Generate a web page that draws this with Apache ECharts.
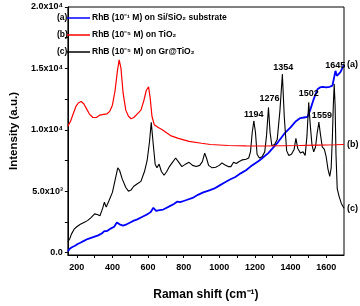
<!DOCTYPE html>
<html>
<head>
<meta charset="utf-8">
<script src="https://cdn.jsdelivr.net/npm/echarts@6/dist/echarts.min.js"></script>
<style>html,body{margin:0;padding:0;background:#fff}#c{width:360px;height:306px}</style>
</head>
<body>
<div id="c"></div>
<script>
// ---- data ----
const seriesNames = ['RhB (10⁻¹ M) on Si/SiO₂ substrate', 'RhB (10⁻⁵ M) on TiO₂', 'RhB (10⁻⁵ M) on Gr@TiO₂'];
const seriesTags = ['(a)', '(b)', '(c)'];

const xA = [150,160,175,190,205,220,240,260,280,300,320,340,355,370,390,410,425,440,460,480,500,520,540,560,580,600,615,630,645,665,685,705,725,745,765,780,800,820,850,880,910,940,970,1000,1030,1060,1090,1120,1150,1175,1200,1225,1250,1275,1300,1330,1366,1400,1430,1455,1475,1495,1510,1530,1551,1565,1580,1600,1620,1635,1645,1652,1660,1668,1680,1690,1700];
const yA = [100,300,450,550,700,800,950,1100,1200,1300,1400,1550,1750,1750,1950,2100,2450,2300,2200,2300,2450,2600,2700,2850,3000,3150,3300,3650,3400,3450,3500,3650,3800,3950,4150,4100,4200,4300,4450,4700,4900,5050,5200,5450,5700,5950,6150,6450,6700,7000,7250,7500,7800,8100,8500,9000,9700,10200,10700,10950,11000,11050,11600,12500,13300,13450,13500,13450,13500,13600,14300,14800,14400,14300,14700,15000,15300];

const xB = [150,165,180,195,210,225,240,255,270,290,310,330,350,370,385,400,415,428,438,448,460,475,490,505,520,540,560,575,590,603,612,622,635,655,680,700,730,770,830,900,950,1050,1150,1250,1350,1450,1550,1650,1700];
const yB = [10300,10700,11300,11900,12200,12300,12100,11700,11300,11000,11000,11200,11250,11300,11500,12000,13200,14800,15700,15000,13000,11600,11100,10900,11000,11300,11600,12300,13200,13500,12600,11100,10400,10200,10000,9800,9500,9300,9050,8900,8800,8720,8690,8680,8700,8720,8750,8780,8800];

const xC = [150,160,170,185,200,220,240,260,280,300,315,330,345,355,365,380,400,415,430,440,455,475,490,505,520,540,560,580,595,608,618,628,640,650,662,675,690,705,720,735,745,755,765,775,790,810,830,850,870,890,905,918,928,940,960,980,1000,1015,1030,1050,1065,1080,1095,1110,1130,1150,1165,1175,1185,1194,1203,1212,1225,1240,1255,1265,1276,1285,1295,1310,1325,1340,1354,1365,1378,1390,1405,1420,1430,1440,1455,1470,1482,1492,1502,1510,1520,1530,1540,1550,1559,1568,1578,1590,1600,1610,1620,1628,1635,1640,1645,1650,1655,1662,1672,1685,1700];
const yC = [900,1100,1500,1900,2100,2300,2450,2600,2850,3150,3100,3000,3600,4100,3700,4200,4900,5900,6900,6700,6000,5300,5000,5100,5400,5600,5800,6600,7500,9000,10600,9000,7200,6900,7200,6600,6300,6600,7000,7300,7400,7700,7800,7300,7000,7200,7350,7100,7000,7100,7400,8100,7700,7100,6900,6950,7100,7300,7150,7000,7000,7350,7250,7400,7550,7600,7700,8200,9800,10700,9800,8000,7700,7800,8200,9500,11800,9800,8700,8800,9200,11500,14500,11000,8300,7900,8000,8400,9300,8500,8100,8200,7900,9500,12200,10500,8800,8200,8600,9800,10600,9600,8600,8400,7800,6800,6200,6900,9500,12000,13700,12000,8000,5200,4600,4000,3600];

const peakLabels = [1194, 1276, 1354, 1502, 1559, 1645];

const xTickValues = [200,300,400,500,600,700,800,900,1000,1100,1200,1300,1400,1500,1600];
const xLabelValues = [200,400,600,800,1000,1200,1400,1600];
const yTickValues = [0,2500,5000,7500,10000,12500,15000,17500,20000];
const yLabelValues = [0,5000,10000,15000,20000];
const yLabelText = {0:'0.0',5000:'5.0x10³',10000:'1.0x10⁴',15000:'1.5x10⁴',20000:'2.0x10⁴'};

// ---- build ----
const FONT = '"Liberation Sans", Arial, sans-serif';
const zip = (xs, ys) => xs.map((x, i) => [x, ys[i]]);
const peakOffsets = {1194:[0,0],1276:[1,-2],1354:[1,0],1502:[0,-2],1559:[3,0],1645:[1,-12]};
const dataC = zip(xC, yC).map(p => {
  if (peakLabels.indexOf(p[0]) >= 0) {
    return {value: p, symbol: 'circle', symbolSize: 1, itemStyle: {color: '#000'},
      label: {show: true, position: 'top', distance: 2, offset: peakOffsets[p[0]],
      formatter: String(p[0]), color: '#000', fontSize: 9, fontWeight: 'bold', fontFamily: FONT}};
  }
  return {value: p, symbol: 'none'};
});
const colors = ['#0000ff', '#ff0000', '#000000'];

function mkSeries(i, data, width) {
  return {
    name: seriesNames[i], type: 'line', data: data, symbol: 'none', showSymbol: true, smooth: false,
    lineStyle: {color: colors[i], width: width}, itemStyle: {color: colors[i]},
    z: i === 2 ? 3 : (i === 1 ? 4 : 2),
    endLabel: {show: true, formatter: seriesTags[i], distance: 3, color: '#000',
      fontSize: 9, fontWeight: 'bold', fontFamily: FONT},
    emphasis: {disabled: true}, animation: false
  };
}

const chart = echarts.init(document.getElementById('c'), null, {renderer: 'canvas'});
chart.setOption({
  animation: false,
  backgroundColor: '#fff',
  grid: {left: 54, right: 16, top: 7, bottom: 43, show: true, borderColor: '#000', borderWidth: 1, backgroundColor: 'transparent'},
  legend: {
    orient: 'vertical', left: 67, top: 11, padding: 0, itemGap: 3, itemWidth: 23, itemHeight: 1.5,
    icon: 'rect',
    data: seriesNames,
    textStyle: {fontSize: 8.5, fontWeight: 'bold', fontFamily: FONT, color: '#000', lineHeight: 14, padding: [0, 0, 0, -3]}
  },
  graphic: seriesTags.map((t, i) => ({
    type: 'text', left: 57, top: 13 + i * 17,
    style: {text: t, font: 'bold 8.5px ' + FONT, fill: '#000'}
  })),
  xAxis: {
    type: 'value', min: 150, max: 1700,
    name: 'Raman shift (cm⁻¹)', nameLocation: 'middle', nameGap: 34,
    nameTextStyle: {fontSize: 12, fontWeight: 'bold', fontFamily: FONT, color: '#000'},
    axisLine: {show: true, onZero: false, lineStyle: {color: '#000', width: 1}},
    axisTick: {show: true, inside: false, length: 3, customValues: xTickValues, lineStyle: {color: '#000'}},
    axisLabel: {customValues: xLabelValues, formatter: v => String(v), fontSize: 9, fontWeight: 'bold', fontFamily: FONT, color: '#000', margin: 8},
    splitLine: {show: false}
  },
  yAxis: {
    type: 'value', min: -200, max: 20000,
    name: 'Intensity (a.u.)', nameLocation: 'middle', nameGap: 46,
    nameTextStyle: {fontSize: 11.5, fontWeight: 'bold', fontFamily: FONT, color: '#000'},
    axisLine: {show: true, onZero: false, lineStyle: {color: '#000', width: 1}},
    axisTick: {show: true, inside: false, length: 3, customValues: yTickValues, lineStyle: {color: '#000'}},
    axisLabel: {customValues: yLabelValues, formatter: v => yLabelText[v], fontSize: 9, fontWeight: 'bold', fontFamily: FONT, color: '#000', margin: 5},
    splitLine: {show: false}
  },
  series: [
    mkSeries(0, zip(xA, yA), 1.8),
    mkSeries(1, zip(xB, yB), 1.2),
    mkSeries(2, dataC, 1.1)
  ]
});
</script>
</body>
</html>
